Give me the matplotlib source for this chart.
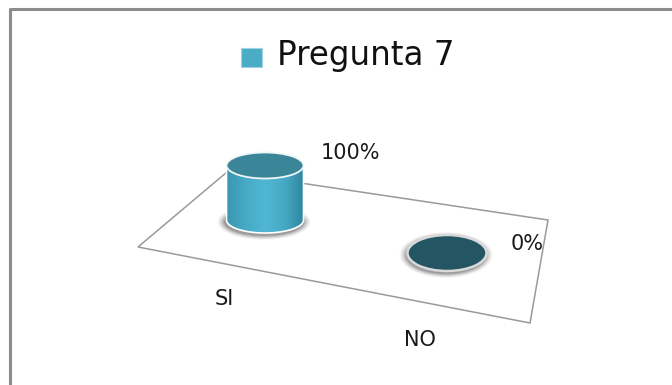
import numpy as np
import matplotlib
matplotlib.use("Agg")
import matplotlib.pyplot as plt
from matplotlib.patches import Ellipse, Polygon, Rectangle
from matplotlib.colors import LinearSegmentedColormap

categories = ["SI", "NO"]
values = [100, 0]          # percentages
labels = ["100%", "0%"]
series_name = "Pregunta 7"

plt.rcParams['font.family'] = ['DejaVu Sans']

fig = plt.figure(figsize=(6.72, 3.85), dpi=100)
ax = fig.add_axes([0, 0, 1, 1])
ax.set_xlim(0, 672)
ax.set_ylim(385, 0)
ax.axis("off")

# chart border (right and bottom are cut off in the original)
ax.plot([10, 10, 672], [385, 9, 9], color="#8c8c8c", lw=2.2, solid_capstyle="butt")

# floor of the 3d plot
floor = [(138, 247), (530, 323), (548, 220), (227, 172)]
ax.add_patch(Polygon(floor, closed=True, facecolor="white", edgecolor="#9a9a9a", lw=1.1))

# category axis on the floor: base centre = origin + index * step
origin = np.array([265.0, 220.0])
step = np.array([182.0, 33.0])
px_per_pct = 54.5 / 100
width = 77
ell_h = [26, 36]           # ellipse height grows with perspective

side_cmap = LinearSegmentedColormap.from_list(
    "side", ["#3a97b1", "#47abc6", "#50b7d2", "#46a9c3", "#2f86a0"])

for i, (cat, val) in enumerate(zip(categories, values)):
    cx, cy = origin + i * step
    h = val * px_per_pct
    eh = ell_h[i]
    top = cy - h

    # soft grey shadow around the base
    for k, a in enumerate([0.06, 0.09, 0.12, 0.16, 0.22, 0.3]):
        grow = 16 - k * 2.6
        ax.add_patch(Ellipse((cx - 1, cy + 2), width + grow, eh + grow * 0.6,
                             facecolor="#6a6a6a", edgecolor="none", alpha=a))

    if h > 0:
        # side of the cylinder: top line, then front half of the base ellipse
        t = np.linspace(0, np.pi, 80)
        arc_x = cx + width / 2 * np.cos(t)
        arc_y = cy + eh / 2 * np.sin(t)
        vx = np.r_[cx - width / 2, cx + width / 2, arc_x]
        vy = np.r_[top, top, arc_y]
        side = Polygon(np.column_stack([vx, vy]), closed=True, facecolor="none",
                       edgecolor="white", lw=1.2, zorder=3)
        ax.add_patch(side)
        grad = np.linspace(0, 1, 200).reshape(1, -1)
        im = ax.imshow(grad, cmap=side_cmap, aspect="auto", interpolation="bilinear",
                       extent=[cx - width / 2, cx + width / 2, cy + eh / 2 + 1, top],
                       zorder=2)
        im.set_clip_path(side)
        ax.add_patch(Ellipse((cx, top), width, eh, facecolor="#3a8698",
                             edgecolor="#eef6f8", lw=1.3, zorder=4))
    else:
        ax.add_patch(Ellipse((cx, top), width + 2, eh, facecolor="#235563",
                             edgecolor="#d9d9d9", lw=1.8, zorder=4))

ax.set_xlim(0, 672)
ax.set_ylim(385, 0)

# value labels
ax.text(350, 153, labels[0], fontsize=15, ha="center", va="center", color="#1a1a1a")
ax.text(527, 244, labels[1], fontsize=15, ha="center", va="center", color="#1a1a1a")
# category labels
ax.text(224, 299, categories[0], fontsize=15, ha="center", va="center", color="#1a1a1a")
ax.text(420, 340, categories[1], fontsize=15, ha="center", va="center", color="#1a1a1a")

# legend on top
ax.add_patch(Rectangle((241, 48), 21, 19, facecolor="#4bacc6", edgecolor="#9fd3e1", lw=0.8))
ax.text(277, 56, series_name, fontsize=23.5, ha="left", va="center", color="#111111")

fig.savefig("out.png", dpi=100)
